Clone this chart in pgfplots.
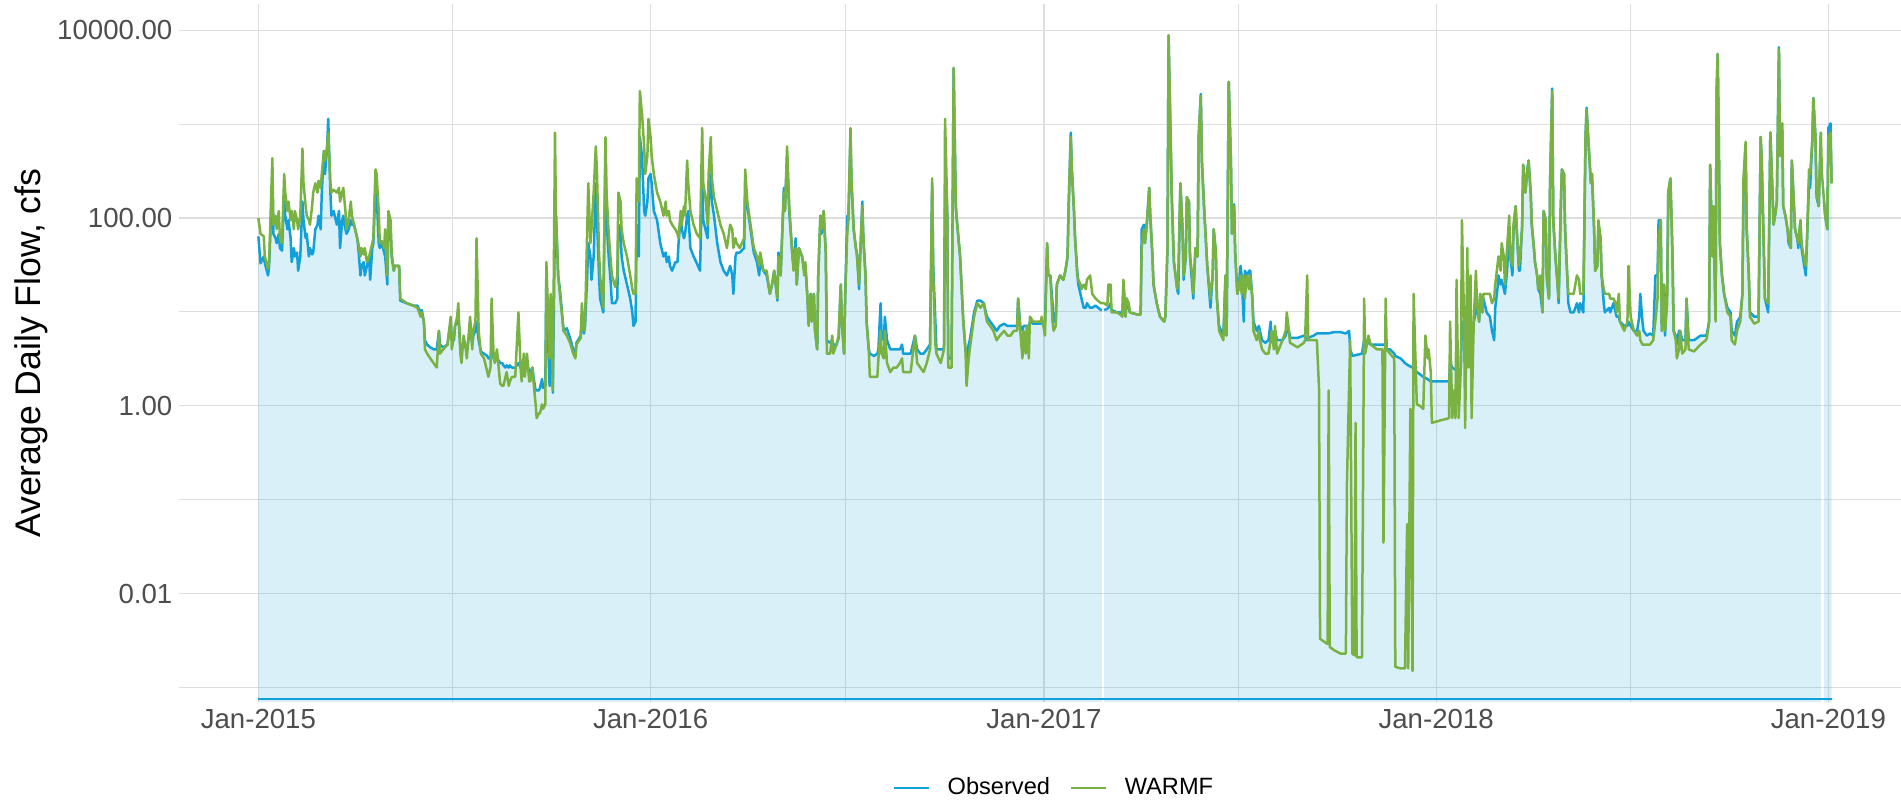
\documentclass[border=0pt]{standalone}
\usepackage{fontspec}
\setmainfont{Liberation Sans}
\usepackage{pgfplots}
\usepackage{pgfplotstable}
\pgfplotsset{compat=1.18}

\definecolor{obsc}{RGB}{18,160,218}
\definecolor{warmc}{RGB}{122,178,66}
\definecolor{gridc}{RGB}{222,222,222}
\definecolor{tickc}{RGB}{77,77,77}

% x = days since 1 Jan 2015, q = average daily flow (cfs)
% Observed, split where the record has gaps
\pgfplotstableread[row sep=\\]{
d q\\
0 64\\ 2 33\\ 5 39\\ 6 33\\ 9 24.5\\ 10 31\\ 13 250\\ 14 68\\ 16 61\\ 17 54\\ 19 68\\ 20 48\\ 22 45\\ 24 187\\ 25 106\\ 27 76\\ 28 95\\ 30 61\\ 31 34\\ 33 48\\ 34 39\\ 36 43\\ 37 27.5\\ 39 39\\
41 150\\ 42 95\\ 44 61\\ 45 68\\ 47 39\\ 48 48\\ 50 41\\ 51 43\\ 53 76\\ 55 85\\ 56 106\\ 58 76\\ 59 187\\ 61 520\\ 62 295\\ 64 580\\ 65 1140\\ 67 187\\ 68 106\\ 70 119\\ 73 85\\ 75 119\\ 76 48\\ 78 95\\ 79 106\\
81 76\\ 82 68\\ 84 76\\ 86 95\\ 87 85\\ 89 85\\ 90 76\\ 92 61\\ 93 48\\ 95 24.5\\ 96 31\\ 98 34\\ 99 24.5\\ 101 31\\ 103 39\\ 104 22\\ 106 48\\ 107 54\\ 109 235\\ 110 187\\ 112 54\\ 113 48\\ 115 54\\ 117 43\\ 118 39\\
120 19.6\\ 121 106\\ 123 76\\ 124 39\\ 126 27.5\\ 127 31\\ 131 31\\ 132 13.2\\ 138 12.4\\ 144 11.7\\ 148 11.7\\ 151 9.9\\ 152 10.5\\ 154 7.9\\ 155 5.0\\ 157 4.5\\ 160 4.2\\ 163 4.0\\ 166 4.0\\ 168 6.3\\ 169 4.5\\
172 4.2\\ 176 4.5\\ 177 5.6\\ 179 7.9\\ 180 5.0\\ 182 5.0\\ 183 7.1\\ 185 7.9\\ 186 9.9\\ 188 4.0\\ 189 4.0\\ 191 4.7\\ 193 4.2\\ 194 4.0\\ 196 5.6\\ 197 7.9\\ 199 4.5\\ 200 5.6\\ 202 6.3\\ 203 7.9\\ 205 5.0\\
207 3.8\\ 210 3.6\\ 213 3.4\\ 214 3.2\\ 216 3.2\\ 217 4.0\\ 219 3.2\\ 220 3.0\\ 222 3.2\\ 224 3.0\\ 225 2.86\\ 227 2.86\\ 228 2.7\\ 230 2.56\\ 231 2.7\\ 233 2.56\\ 234 2.7\\ 236 2.56\\ 239 2.56\\ 242 2.86\\
244 2.56\\ 245 2.4\\ 247 2.86\\ 248 2.56\\ 250 2.86\\ 252 2.29\\ 253 2.29\\ 255 2.56\\ 256 2.04\\ 258 1.46\\ 259 1.46\\ 261 1.46\\ 262 1.55\\ 264 1.93\\ 265 1.55\\ 267 1.63\\ 268 24.5\\ 269 7.9\\ 271 1.63\\
272 13.9\\ 273 6.3\\ 274 1.38\\ 276 95\\ 277 106\\ 279 24.5\\ 281 15.6\\ 284 6.3\\ 287 6.7\\ 290 5.3\\ 293 4.0\\ 295 3.6\\ 296 4.7\\ 300 5.6\\ 301 8.9\\ 303 5.9\\ 304 7.1\\ 306 24.5\\ 307 54\\ 309 39\\ 310 22\\
312 39\\ 314 235\\ 315 106\\ 317 24.5\\ 318 13.9\\ 320 11.1\\ 321 9.9\\ 323 520\\ 324 95\\ 326 39\\ 328 19.6\\ 329 12.4\\ 332 12.4\\ 334 13.9\\ 335 85\\ 337 76\\ 338 39\\ 340 27.5\\ 343 19.6\\ 346 13.9\\
348 9.9\\ 349 7.1\\ 351 7.9\\ 352 85\\ 354 39\\ 355 730\\ 357 460\\ 359 119\\ 360 106\\ 362 150\\ 363 265\\ 365 295\\ 366 235\\ 368 119\\ 371 95\\ 374 54\\ 377 39\\ 379 43\\ 380 34\\ 382 39\\ 383 31\\
385 27.5\\ 388 34\\ 390 34\\ 391 54\\ 393 106\\ 394 76\\ 396 61\\ 397 68\\ 399 106\\ 400 119\\ 402 48\\ 405 39\\ 408 33\\ 411 27.5\\ 413 295\\ 414 95\\ 416 76\\ 418 61\\ 419 150\\ 421 295\\ 422 150\\
424 106\\ 427 54\\ 430 34\\ 433 27.5\\ 436 24.5\\ 439 31\\ 441 24.5\\ 442 15.6\\ 444 39\\ 445 43\\ 448 43\\ 452 48\\ 453 187\\ 455 134\\ 458 76\\ 461 43\\ 464 34\\ 466 24.5\\ 467 34\\ 470 27.5\\ 473 24.5\\
476 15.6\\ 478 19.6\\ 480 27.5\\ 483 13.2\\ 484 43\\ 486 24.5\\ 489 210\\ 490 119\\ 492 460\\ 494 119\\ 497 39\\ 498 31\\ 500 61\\ 501 19.6\\ 503 48\\ 506 39\\ 508 27.5\\ 509 31\\ 511 13.9\\ 512 7.9\\
514 15.6\\ 515 7.9\\ 517 15.6\\ 518 6.3\\ 520 4.0\\ 521 24.5\\ 523 106\\ 524 68\\ 526 119\\ 528 43\\ 529 5.0\\ 532 4.7\\ 534 5.0\\ 535 4.5\\ 538 4.5\\ 540 5.3\\ 542 19.6\\ 543 7.9\\ 545 3.6\\ 546 13.9\\
548 106\\ 549 95\\ 551 730\\ 552 235\\ 554 76\\ 556 48\\ 557 43\\ 559 17.5\\ 560 39\\ 562 150\\ 563 61\\ 565 24.5\\ 566 7.9\\ 568 4.0\\ 569 3.6\\ 573 3.4\\ 576 3.6\\ 577 4.0\\ 579 12.4\\ 580 5.6\\
582 5.0\\ 583 8.9\\ 585 5.0\\ 588 4.0\\ 591 4.0\\ 594 4.0\\ 597 4.0\\ 599 4.5\\ 600 3.6\\ 604 3.6\\ 607 3.6\\ 611 5.6\\ 613 4.0\\ 616 3.6\\ 619 3.6\\ 622 4.0\\ 625 4.5\\ 627 235\\ 628 31\\ 630 7.9\\
631 4.0\\ 635 4.0\\ 638 4.0\\ 639 150\\ 641 134\\ 642 3.2\\ 645 3.2\\ 647 3970\\ 649 134\\ 650 95\\ 653 39\\ 656 7.9\\ 658 4.0\\ 659 3.2\\ 661 4.5\\ 662 5.0\\ 666 9.9\\ 669 13.2\\ 672 13.2\\ 675 12.4\\
678 8.9\\ 681 7.9\\ 684 7.1\\ 687 6.3\\ 690 7.1\\ 694 7.5\\ 697 7.1\\ 700 7.1\\ 703 7.1\\ 706 7.1\\ 707 13.9\\ 709 7.1\\ 711 6.3\\ 712 7.1\\ 714 7.1\\ 715 7.1\\ 717 7.1\\ 718 7.9\\ 721 7.5\\ 725 7.5\\
728 7.5\\ 729 7.9\\ 732 7.9\\ 734 54\\ 735 24.5\\ 737 24.5\\ 739 12.4\\ 740 7.9\\ 742 7.9\\ 743 19.6\\ 746 24.5\\ 749 22\\ 751 27.5\\ 753 39\\ 754 134\\ 756 815\\ 757 330\\ 759 119\\ 760 61\\ 762 27.5\\
763 19.6\\ 765 15.6\\ 766 13.9\\ 768 11.1\\ 770 11.1\\ 771 12.4\\ 774 11.1\\ 776 11.1\\ 779 11.7\\ 784 10.5\\ 785 10.5\\
}\obsA

\pgfplotstableread[row sep=\\]{
d q\\
787 10.5\\ 790 10.8\\ 791 11.1\\ 793 12.4\\ 794 10.5\\ 799 9.9\\ 802 9.9\\ 804 9.4\\ 805 19.6\\ 807 8.9\\ 808 13.9\\ 810 11.1\\ 811 9.9\\ 818 9.4\\ 821 9.4\\ 822 76\\ 824 85\\ 825 54\\ 827 95\\
829 210\\ 830 106\\ 832 39\\ 833 19.6\\ 836 12.4\\ 839 8.9\\ 843 7.9\\ 844 8.9\\ 846 48\\ 847 8830\\ 849 580\\ 850 167\\ 852 34\\ 853 27.5\\ 855 17.5\\ 856 15.6\\ 858 235\\ 860 76\\ 861 22\\ 863 39\\
864 167\\ 866 150\\ 867 39\\ 869 19.6\\ 870 13.9\\ 872 48\\ 874 39\\ 875 730\\ 877 2100\\ 878 410\\ 880 134\\ 883 31\\ 886 11.1\\ 888 24.5\\ 889 76\\ 891 43\\ 892 13.9\\ 894 7.1\\ 898 5.6\\ 900 24.5\\
901 5.6\\ 903 2830\\ 905 410\\ 906 68\\ 908 140\\ 909 43\\ 911 15.6\\ 912 17.5\\ 914 31\\ 915 24.5\\ 917 7.9\\ 918 27.5\\ 920 24.5\\ 922 27.5\\ 923 27.5\\ 925 13.9\\ 926 7.9\\ 929 6.3\\ 931 7.1\\
932 6.3\\ 934 5.0\\ 937 4.7\\ 940 5.0\\ 942 7.9\\ 943 5.0\\ 945 5.0\\ 946 6.3\\ 948 5.0\\ 953 5.0\\ 956 5.6\\ 957 6.3\\ 959 6.3\\ 960 5.3\\ 967 5.3\\ 973 5.6\\ 974 5.6\\ 976 5.0\\ 977 5.3\\ 982 5.6\\
985 5.9\\ 988 5.9\\ 995 5.9\\ 1001 6.1\\ 1007 6.1\\ 1012 5.9\\ 1015 6.3\\ 1016 4.0\\ 1018 3.4\\ 1027 3.6\\ 1029 5.0\\ 1030 4.5\\ 1033 4.7\\ 1035 4.5\\ 1041 4.5\\ 1046 4.5\\ 1049 4.5\\ 1050 4.0\\
1053 4.0\\ 1057 3.6\\ 1058 3.4\\ 1063 3.2\\ 1067 2.86\\ 1070 2.7\\ 1074 2.56\\ 1075 2.56\\ 1078 2.29\\ 1081 2.17\\ 1084 2.04\\ 1088 1.93\\ 1091 1.82\\ 1100 1.82\\ 1108 1.82\\ 1109 2.86\\ 1111 2.56\\
1117 2.29\\ 1119 2.56\\ 1120 7.9\\ 1122 6.3\\ 1123 4.0\\ 1125 7.9\\ 1126 4.0\\ 1128 7.9\\ 1129 4.0\\ 1131 7.9\\ 1133 9.9\\ 1134 12.4\\ 1136 7.9\\ 1137 15.6\\ 1139 9.9\\ 1140 13.9\\ 1143 9.9\\ 1146 8.9\\
1148 6.3\\ 1150 5.0\\ 1151 11.1\\ 1153 17.5\\ 1154 24.5\\ 1156 19.6\\ 1157 22\\ 1159 17.5\\ 1160 15.6\\ 1162 27.5\\ 1164 76\\ 1165 39\\ 1167 24.5\\ 1168 76\\ 1170 134\\ 1171 76\\ 1173 27.5\\ 1174 27.5\\
1176 85\\ 1177 370\\ 1179 187\\ 1181 330\\ 1182 410\\ 1184 187\\ 1185 85\\ 1187 48\\ 1188 34\\ 1190 24.5\\ 1191 17.5\\ 1193 15.6\\ 1195 9.9\\ 1196 119\\ 1198 95\\ 1199 22\\ 1201 13.9\\ 1202 235\\
1204 2400\\ 1205 95\\ 1207 39\\ 1209 19.6\\ 1210 12.4\\ 1212 134\\ 1213 330\\ 1215 295\\ 1216 76\\ 1218 24.5\\ 1219 12.4\\ 1221 9.9\\ 1224 9.9\\ 1227 12.4\\ 1229 9.9\\ 1230 12.4\\ 1233 9.9\\ 1235 730\\
1236 1500\\ 1238 580\\ 1240 235\\ 1241 295\\ 1243 76\\ 1244 27.5\\ 1246 31\\ 1247 85\\ 1249 61\\ 1250 24.5\\ 1252 12.4\\ 1253 9.9\\ 1257 11.1\\ 1258 9.9\\ 1261 12.4\\ 1263 9.9\\ 1264 8.9\\ 1266 8.9\\
1267 7.9\\ 1271 7.1\\ 1274 7.1\\ 1275 7.9\\ 1277 7.1\\ 1280 6.3\\ 1283 6.3\\ 1285 8.9\\ 1286 15.6\\ 1288 7.9\\ 1289 6.3\\ 1292 5.6\\ 1295 5.9\\ 1298 5.6\\ 1300 24.5\\ 1302 24.5\\ 1303 95\\ 1305 95\\
1306 6.3\\ 1308 19.6\\ 1309 5.6\\ 1311 17.5\\ 1312 187\\ 1314 265\\ 1316 39\\ 1317 6.3\\ 1319 5.6\\ 1320 4.5\\ 1322 6.3\\ 1323 6.3\\ 1325 5.0\\ 1328 5.0\\ 1329 13.9\\ 1331 5.0\\ 1336 5.0\\ 1342 5.6\\
1347 5.6\\ 1348 5.9\\ 1350 7.9\\ 1351 370\\ 1353 39\\ 1354 134\\ 1356 8.9\\ 1357 2260\\ 1358 5600\\ 1359 730\\ 1360 54\\ 1362 24.5\\ 1364 15.6\\ 1367 11.1\\ 1370 9.9\\ 1371 6.3\\ 1374 5.6\\ 1376 7.9\\
1379 8.9\\ 1381 15.6\\ 1382 187\\ 1384 580\\ 1385 76\\ 1387 24.5\\ 1388 9.9\\ 1392 8.9\\ 1396 8.9\\ 1398 730\\ 1399 410\\ 1401 43\\ 1402 13.9\\ 1405 9.9\\ 1407 815\\ 1409 187\\ 1410 85\\ 1412 119\\
1413 150\\ 1415 6600\\ 1416 460\\ 1418 1020\\ 1419 134\\ 1421 106\\ 1423 76\\ 1424 54\\ 1426 48\\ 1427 410\\ 1429 134\\ 1430 76\\ 1432 61\\ 1433 48\\ 1435 95\\ 1436 48\\ 1438 34\\ 1440 24.5\\ 1441 54\\
1443 235\\ 1444 210\\ 1446 650\\ 1447 1900\\ 1449 730\\ 1450 167\\ 1452 134\\ 1454 815\\
}\obsB

\pgfplotstableread[row sep=\\]{
d q\\
1457 150\\ 1458 106\\ 1460 76\\ 1461 910\\ 1463 1020\\ 1464 235\\
}\obsC

% WARMF simulation
\pgfplotstableread[row sep=\\]{
d q\\
0 100\\ 2 68\\ 5 64\\ 6 39\\ 9 29\\ 10 34\\ 13 435\\ 14 85\\ 16 106\\ 17 76\\ 19 119\\ 20 61\\ 22 54\\ 24 295\\ 25 187\\ 27 119\\ 28 150\\ 30 95\\ 31 119\\ 33 76\\ 34 119\\ 36 95\\ 37 76\\ 39 106\\
41 550\\ 42 235\\ 44 134\\ 45 106\\ 47 95\\ 48 85\\ 50 134\\ 51 187\\ 53 235\\ 55 187\\ 56 250\\ 58 210\\ 59 295\\ 61 520\\ 62 410\\ 64 580\\ 65 815\\ 67 235\\ 68 187\\ 70 200\\ 73 187\\ 75 210\\
76 150\\ 78 187\\ 79 210\\ 81 119\\ 82 76\\ 84 95\\ 86 150\\ 87 106\\ 89 85\\ 90 76\\ 92 61\\ 93 54\\ 95 39\\ 96 48\\ 98 41\\ 99 48\\ 101 34\\ 103 39\\ 104 43\\ 106 54\\ 107 61\\ 109 330\\ 110 295\\
112 119\\ 113 54\\ 115 57\\ 117 48\\ 118 76\\ 120 24.5\\ 121 119\\ 123 95\\ 124 43\\ 126 27.5\\ 127 31\\ 131 31\\ 132 13.9\\ 138 12.4\\ 144 11.7\\ 148 11.1\\ 151 8.9\\ 152 9.9\\ 154 7.9\\ 155 4.0\\
157 3.6\\ 160 3.2\\ 163 2.86\\ 166 2.56\\ 168 6.3\\ 169 3.6\\ 172 4.0\\ 176 4.5\\ 177 5.6\\ 179 8.9\\ 180 4.0\\ 182 5.6\\ 183 7.1\\ 185 8.9\\ 186 12.4\\ 188 3.6\\ 189 2.86\\ 191 5.6\\ 193 4.0\\ 194 3.2\\
196 6.3\\ 197 8.9\\ 199 4.0\\ 200 6.3\\ 202 7.9\\ 203 61\\ 205 6.3\\ 207 3.6\\ 210 3.2\\ 213 2.29\\ 214 2.04\\ 216 2.56\\ 217 13.9\\ 219 3.2\\ 220 2.86\\ 222 4.0\\ 224 2.29\\ 225 1.72\\ 227 1.63\\
228 1.63\\ 230 2.04\\ 231 2.29\\ 233 1.63\\ 234 1.82\\ 236 2.04\\ 239 2.04\\ 242 9.9\\ 244 2.56\\ 245 1.82\\ 247 3.6\\ 248 2.04\\ 250 3.6\\ 252 1.82\\ 253 1.82\\ 255 2.56\\ 256 1.82\\ 258 1.04\\
259 0.74\\ 261 0.83\\ 262 0.83\\ 264 1.04\\ 265 0.93\\ 267 1.04\\ 268 34\\ 269 15.6\\ 271 3.2\\ 272 15.6\\ 273 7.9\\ 274 1.46\\ 276 815\\ 277 95\\ 279 24.5\\ 281 13.9\\ 284 6.3\\ 287 5.6\\ 290 4.7\\
293 3.6\\ 295 3.2\\ 296 4.5\\ 300 5.3\\ 301 12.4\\ 303 6.3\\ 304 7.9\\ 306 76\\ 307 235\\ 309 54\\ 310 76\\ 312 187\\ 314 580\\ 315 330\\ 317 43\\ 318 24.5\\ 320 13.9\\ 321 11.1\\ 323 730\\ 324 187\\
326 68\\ 328 34\\ 329 24.5\\ 332 18.5\\ 334 24.5\\ 335 187\\ 337 150\\ 338 76\\ 340 54\\ 343 39\\ 346 24.5\\ 348 17.5\\ 349 15.6\\ 351 15.6\\ 352 265\\ 354 150\\ 355 2260\\ 357 1280\\ 359 580\\
360 295\\ 362 460\\ 363 1140\\ 365 730\\ 366 460\\ 368 295\\ 371 187\\ 374 150\\ 377 106\\ 379 150\\ 380 106\\ 382 119\\ 383 95\\ 385 85\\ 388 76\\ 390 68\\ 391 61\\ 393 119\\ 394 85\\ 396 134\\
397 106\\ 399 410\\ 400 235\\ 402 119\\ 405 85\\ 408 68\\ 411 61\\ 413 910\\ 414 235\\ 416 167\\ 418 85\\ 419 295\\ 421 730\\ 422 265\\ 424 167\\ 427 119\\ 430 85\\ 433 68\\ 436 48\\ 439 85\\ 441 76\\
442 48\\ 444 61\\ 445 54\\ 448 48\\ 452 61\\ 453 330\\ 455 150\\ 458 85\\ 461 48\\ 464 39\\ 466 31\\ 467 43\\ 470 27.5\\ 473 27.5\\ 476 15.6\\ 478 19.6\\ 480 27.5\\ 483 13.9\\ 484 39\\ 486 24.5\\
489 187\\ 490 119\\ 492 580\\ 494 134\\ 497 39\\ 498 27.5\\ 500 48\\ 501 19.6\\ 503 48\\ 506 39\\ 508 24.5\\ 509 34\\ 511 13.9\\ 512 7.1\\ 514 15.6\\ 515 7.9\\ 517 15.6\\ 518 6.3\\ 520 4.0\\
521 24.5\\ 523 106\\ 524 76\\ 526 119\\ 528 43\\ 529 3.6\\ 532 3.6\\ 534 5.6\\ 535 3.6\\ 538 4.5\\ 540 5.6\\ 542 19.6\\ 543 7.9\\ 545 3.6\\ 546 13.9\\ 548 68\\ 549 95\\ 551 910\\ 552 235\\ 554 76\\
556 48\\ 557 39\\ 559 19.6\\ 560 39\\ 562 134\\ 563 61\\ 565 24.5\\ 566 7.9\\ 568 4.0\\ 569 2.04\\ 573 2.04\\ 576 2.04\\ 577 3.2\\ 579 6.3\\ 580 3.6\\ 582 3.2\\ 583 6.3\\ 585 2.86\\ 588 2.29\\
591 2.56\\ 594 2.56\\ 597 2.86\\ 599 3.2\\ 600 2.29\\ 604 2.29\\ 607 2.29\\ 611 5.6\\ 613 2.86\\ 616 2.56\\ 619 2.29\\ 622 2.86\\ 625 4.0\\ 627 265\\ 628 24.5\\ 630 4.5\\ 631 3.6\\ 635 2.86\\
638 4.0\\ 639 1140\\ 641 134\\ 642 2.56\\ 645 2.56\\ 647 3970\\ 649 134\\ 650 95\\ 653 39\\ 656 7.9\\ 658 4.0\\ 659 1.63\\ 661 3.2\\ 662 4.0\\ 666 8.9\\ 669 12.4\\ 672 11.1\\ 675 12.4\\ 678 7.9\\
681 7.1\\ 684 6.3\\ 687 5.0\\ 690 5.6\\ 694 6.3\\ 697 5.6\\ 700 5.6\\ 703 6.3\\ 706 6.3\\ 707 13.9\\ 709 6.3\\ 711 3.2\\ 712 6.3\\ 714 3.6\\ 715 7.1\\ 717 3.2\\ 718 8.9\\ 721 7.9\\ 725 7.9\\ 728 7.9\\
729 8.9\\ 732 5.6\\ 734 54\\ 735 24.5\\ 737 24.5\\ 739 7.9\\ 740 6.3\\ 742 7.1\\ 743 19.6\\ 746 24.5\\ 749 22\\ 751 27.5\\ 753 39\\ 754 134\\ 756 730\\ 757 330\\ 759 119\\ 760 61\\ 762 24.5\\
763 22\\ 765 19.6\\ 766 17.5\\ 768 19.6\\ 770 17.5\\ 771 22\\ 774 24.5\\ 776 15.6\\ 779 13.9\\ 784 12.4\\ 787 12.4\\ 790 11.7\\ 791 19.6\\ 793 19.6\\ 794 9.9\\ 799 9.9\\ 802 9.4\\ 804 8.9\\
805 22\\ 807 8.9\\ 808 13.9\\ 810 12.4\\ 811 9.9\\ 818 9.4\\ 821 9.4\\ 822 48\\ 824 76\\ 825 54\\ 827 95\\ 829 210\\ 830 106\\ 832 39\\ 833 19.6\\ 836 12.4\\ 839 8.9\\ 843 7.9\\ 844 8.9\\ 846 48\\
847 8830\\ 849 730\\ 850 167\\ 852 34\\ 853 27.5\\ 855 17.5\\ 856 24.5\\ 858 235\\ 860 76\\ 861 24.5\\ 863 39\\ 864 167\\ 866 150\\ 867 39\\ 869 24.5\\ 870 15.6\\ 872 48\\ 874 39\\ 875 730\\
877 2000\\ 878 410\\ 880 134\\ 883 31\\ 886 13.9\\ 888 24.5\\ 889 76\\ 891 43\\ 892 13.9\\ 894 6.3\\ 898 5.0\\ 900 24.5\\ 901 5.6\\ 903 2830\\ 905 410\\ 906 68\\ 908 134\\ 909 43\\ 911 15.6\\
912 17.5\\ 914 24.5\\ 915 15.6\\ 917 24.5\\ 918 13.9\\ 920 24.5\\ 922 17.5\\ 923 24.5\\ 925 13.9\\ 926 6.3\\ 929 5.0\\ 931 6.3\\ 932 5.0\\ 934 4.0\\ 937 3.6\\ 940 3.6\\ 942 5.0\\ 943 6.3\\ 945 4.0\\
946 7.1\\ 948 3.6\\ 953 5.0\\ 956 6.3\\ 957 9.9\\ 959 6.3\\ 960 4.7\\ 967 4.2\\ 973 4.7\\ 974 5.0\\ 976 24.5\\ 977 5.0\\ 982 5.0\\ 985 5.0\\ 987 1.55\\ 988 0.0033\\ 995 0.0029\\ 996 1.46\\
997 0.0027\\ 1001 0.0025\\ 1007 0.0023\\ 1012 0.0023\\ 1013 0.15\\ 1015 1.63\\ 1016 5.0\\ 1018 0.0023\\ 1020 0.0022\\ 1021 0.66\\ 1022 0.0021\\ 1027 0.0021\\ 1029 13.9\\ 1030 3.6\\ 1033 5.6\\
1035 4.5\\ 1041 4.0\\ 1046 4.0\\ 1047 0.035\\ 1049 13.9\\ 1050 4.0\\ 1053 3.6\\ 1057 3.2\\ 1058 0.00166\\ 1063 0.0016\\ 1067 0.0016\\ 1069 0.055\\ 1070 0.0016\\ 1072 0.93\\ 1074 0.0015\\ 1075 15.6\\
1078 1.04\\ 1081 1.0\\ 1084 0.93\\ 1086 5.6\\ 1088 3.2\\ 1089 4.0\\ 1091 2.29\\ 1092 0.66\\ 1100 0.7\\ 1108 0.74\\ 1109 7.9\\ 1111 0.74\\ 1112 1.46\\ 1114 0.74\\ 1115 22\\ 1117 0.74\\ 1119 2.56\\
1120 95\\ 1122 7.9\\ 1123 0.58\\ 1125 48\\ 1126 2.56\\ 1128 24.5\\ 1129 0.74\\ 1131 7.9\\ 1133 27.5\\ 1134 12.4\\ 1136 7.9\\ 1137 15.6\\ 1139 9.9\\ 1140 15.6\\ 1143 15.6\\ 1146 15.6\\ 1148 12.4\\
1150 13.9\\ 1151 19.6\\ 1153 31\\ 1154 39\\ 1156 27.5\\ 1157 54\\ 1159 39\\ 1160 19.6\\ 1162 48\\ 1164 106\\ 1165 39\\ 1167 31\\ 1168 85\\ 1170 134\\ 1171 76\\ 1173 31\\ 1174 39\\ 1176 76\\ 1177 370\\
1179 187\\ 1181 330\\ 1182 410\\ 1184 187\\ 1185 85\\ 1187 48\\ 1188 34\\ 1190 24.5\\ 1191 17.5\\ 1193 24.5\\ 1195 9.9\\ 1196 119\\ 1198 95\\ 1199 24.5\\ 1201 13.9\\ 1202 235\\ 1204 2260\\ 1205 95\\
1207 39\\ 1209 19.6\\ 1210 13.9\\ 1212 134\\ 1213 330\\ 1215 295\\ 1216 76\\ 1218 24.5\\ 1219 15.6\\ 1221 15.6\\ 1224 15.6\\ 1227 24.5\\ 1229 22\\ 1230 15.6\\ 1233 15.6\\ 1235 730\\ 1236 1430\\
1238 580\\ 1240 235\\ 1241 295\\ 1243 76\\ 1244 27.5\\ 1246 31\\ 1247 95\\ 1249 61\\ 1250 24.5\\ 1252 17.5\\ 1253 15.6\\ 1257 15.6\\ 1258 13.9\\ 1261 13.9\\ 1263 12.4\\ 1264 9.9\\ 1266 15.6\\
1267 7.9\\ 1271 6.3\\ 1274 7.9\\ 1275 31\\ 1277 8.9\\ 1280 6.3\\ 1283 5.6\\ 1285 6.3\\ 1286 5.0\\ 1288 4.5\\ 1292 4.5\\ 1295 4.5\\ 1298 5.0\\ 1300 7.9\\ 1302 13.9\\ 1303 61\\ 1305 95\\ 1306 6.3\\
1308 19.6\\ 1309 6.3\\ 1311 12.4\\ 1312 187\\ 1314 265\\ 1316 39\\ 1317 6.3\\ 1319 5.0\\ 1320 3.2\\ 1322 4.0\\ 1323 6.3\\ 1325 3.6\\ 1328 4.0\\ 1329 13.9\\ 1331 4.0\\ 1336 3.8\\ 1342 4.5\\ 1347 5.0\\
1348 5.3\\ 1350 7.9\\ 1351 370\\ 1353 39\\ 1354 134\\ 1356 7.9\\ 1357 2260\\ 1358 5600\\ 1359 730\\ 1360 54\\ 1362 24.5\\ 1364 15.6\\ 1367 9.9\\ 1370 8.9\\ 1371 5.0\\ 1374 4.5\\ 1376 6.3\\
1379 7.9\\ 1381 15.6\\ 1382 265\\ 1384 650\\ 1385 76\\ 1387 24.5\\ 1388 8.9\\ 1392 7.5\\ 1396 7.9\\ 1398 730\\ 1399 410\\ 1401 43\\ 1402 13.9\\ 1405 12.4\\ 1407 815\\ 1409 187\\ 1410 85\\ 1412 119\\
1413 150\\ 1415 6270\\ 1416 460\\ 1418 1020\\ 1419 134\\ 1421 106\\ 1423 76\\ 1424 61\\ 1426 48\\ 1427 410\\ 1429 134\\ 1430 76\\ 1432 61\\ 1433 54\\ 1435 95\\ 1436 54\\ 1438 39\\ 1440 31\\ 1441 54\\
1443 330\\ 1444 295\\ 1446 650\\ 1447 1900\\ 1449 730\\ 1450 187\\ 1452 134\\ 1454 815\\ 1455 295\\ 1457 150\\ 1458 106\\ 1460 76\\ 1461 730\\ 1463 815\\ 1464 235\\
}\warmf

\begin{document}
\begin{tikzpicture}
\begin{axis}[
  name=ax,
  scale only axis,
  width=860.8pt, height=348.7pt,
  xmin=-73.5, xmax=1528.6,
  ymode=log, ymin=0.000703, ymax=18840,
  log origin y=infty,
  axis line style={draw=none},
  tick style={draw=none},
  grid=both,
  major grid style={color=gridc, line width=0.6pt},
  minor grid style={color=gridc, line width=0.5pt},
  xtick={0,365,731,1096,1461},
  xticklabels={Jan-2015,Jan-2016,Jan-2017,Jan-2018,Jan-2019},
  minor xtick={181,546,912,1277},
  ytick={0.01,1,100,10000},
  yticklabels={0.01,1.00,100.00,10000.00},
  minor ytick={0.001,0.1,10,1000},
  ticklabel style={font=\fontsize{13.8}{16}\selectfont, text=tickc},
  legend columns=2,
  legend style={at={(0.5,0)}, anchor=center, xshift=6.4pt, yshift=-43pt,
    draw=none, fill=none, font=\fontsize{11.8}{14}\selectfont,
    nodes={inner sep=0pt},
    /tikz/every odd column/.append style={column sep=9pt},
    /tikz/every even column/.append style={column sep=10pt}},
  legend image code/.code={\draw[#1, line width=0.9pt] (0pt,0pt) -- (17.5pt,0pt);},
  every axis plot/.append style={line join=round},
]
\addplot[draw=none, fill=obsc, fill opacity=0.16, forget plot] table[x=d, y=q] {\obsA} \closedcycle;
\addplot[draw=none, fill=obsc, fill opacity=0.16, forget plot] table[x=d, y=q] {\obsB} \closedcycle;
\addplot[draw=none, fill=obsc, fill opacity=0.16, forget plot] table[x=d, y=q] {\obsC} \closedcycle;
\addplot[obsc, line width=1pt, forget plot] coordinates {(0,0.00075) (1464,0.00075)};

\addplot[obsc, line width=1.25pt] table[x=d, y=q] {\obsA};
\addlegendentry{Observed}
\addplot[obsc, line width=1.25pt, forget plot] table[x=d, y=q] {\obsB};
\addplot[obsc, line width=1.25pt, forget plot] table[x=d, y=q] {\obsC};

\addplot[warmc, line width=1.25pt] table[x=d, y=q] {\warmf};
\addlegendentry{WARMF}
\end{axis}
\node[rotate=90, anchor=south, inner sep=0pt, font=\fontsize{17.8}{20}\selectfont]
  at ([xshift=-65.5pt]ax.west) {Average Daily Flow, cfs};
\pgfresetboundingbox
\useasboundingbox ([xshift=-89.7pt, yshift=-50.05pt]ax.south west) rectangle ([yshift=2.25pt]ax.north east);
\end{tikzpicture}
\end{document}
